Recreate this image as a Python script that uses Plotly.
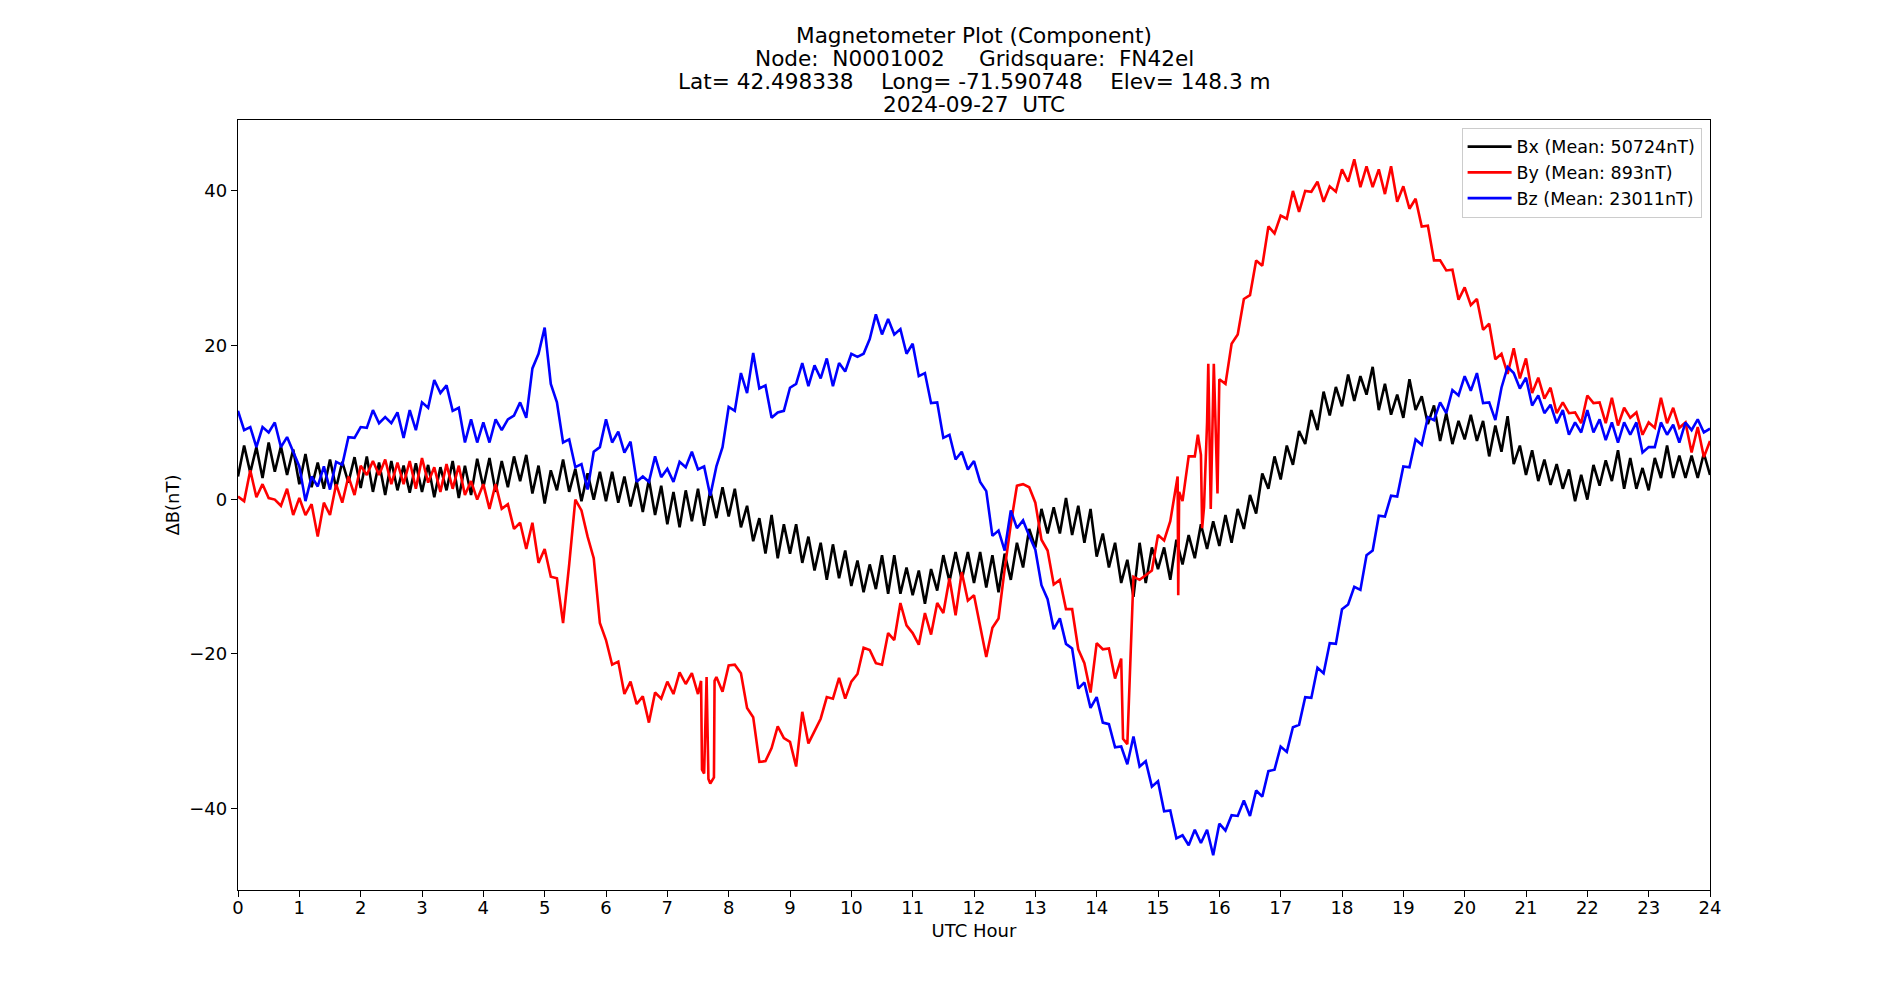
import numpy as np
import plotly.graph_objects as go

# sample grid (UTC hour, 0.1 h step); values read alternately at the upper / lower edge of the noisy trace
hours = np.round(np.arange(241) * 0.1, 1).tolist()

bx = [3.0, 7.0, 3.5, 6.8, 2.8, 7.4, 3.6, 6.9, 3.2, 6.5,
      2.0, 5.9, 1.6, 4.8, 1.4, 5.2, 1.5, 4.9, 2.2, 5.5,
      1.5, 5.6, 1.0, 4.8, 0.6, 5.0, 1.2, 4.4, 0.9, 4.7,
      1.0, 4.5, 0.3, 4.2, 1.2, 5.0, 0.2, 4.4, 0.6, 5.3,
      1.6, 5.4, 1.0, 5.0, 1.6, 5.6, 2.4, 5.8, 0.8, 4.4,
      -0.5, 3.8, 1.2, 5.2, 1.0, 4.0, -0.2, 3.4, 0.0, 3.6,
      -0.2, 3.6, -0.4, 3.0, -0.9, 2.4, -1.6, 2.6, -2.0, 1.8,
      -3.2, 1.0, -3.6, 1.2, -2.8, 1.4, -3.4, 1.2, -2.4, 1.6,
      -2.2, 1.4, -3.6, -0.8, -5.4, -2.4, -7.0, -2.0, -7.6, -3.2,
      -7.0, -3.2, -8.2, -4.8, -9.2, -5.6, -10.4, -5.8, -10.2, -6.6,
      -11.2, -7.9, -12.0, -8.4, -11.6, -7.2, -12.2, -7.2, -12.2, -8.8,
      -12.4, -9.2, -13.5, -9.0, -11.8, -7.2, -10.6, -6.8, -10.4, -6.8,
      -10.8, -6.8, -11.4, -7.2, -12.0, -7.0, -10.4, -5.6, -8.8, -3.8,
      -6.2, -1.2, -4.4, -1.0, -4.4, 0.2, -4.6, -0.8, -5.6, -1.2,
      -7.4, -4.4, -8.8, -5.6, -10.8, -7.8, -12.6, -5.6, -10.8, -6.2,
      -9.0, -6.2, -10.4, -5.2, -8.4, -4.6, -7.6, -3.2, -6.4, -2.8,
      -6.0, -2.0, -5.6, -1.2, -3.8, 0.6, -1.8, 3.4, 1.4, 5.6,
      2.6, 7.0, 4.5, 8.9, 7.2, 11.6, 9.0, 14.0, 10.9, 14.6,
      12.1, 16.2, 12.8, 16.0, 13.6, 17.2, 11.6, 15.0, 11.0, 13.6,
      10.6, 15.6, 11.6, 13.4, 9.8, 12.2, 7.6, 11.2, 7.2, 10.2,
      7.8, 11.0, 7.6, 10.2, 5.6, 9.6, 6.2, 10.8, 4.6, 7.0,
      3.2, 6.4, 2.4, 5.2, 1.9, 4.6, 1.4, 3.9, -0.2, 3.2,
      0.0, 4.5, 1.8, 5.1, 2.4, 6.4, 1.4, 5.4, 1.4, 4.1,
      1.2, 5.4, 2.8, 7.0, 2.8, 5.7, 2.8, 5.7, 2.8, 6.0,
      3.2]

by = [0.4, -0.2, 3.8, 0.3, 2.0, 0.2, 0.0, -0.8, 1.4, -2.0,
      0.2, -2.0, -0.6, -4.8, -0.4, -2.0, 2.0, -0.4, 3.0, 0.6,
      4.4, 3.2, 5.0, 3.2, 5.2, 2.0, 4.8, 2.0, 5.0, 1.4,
      5.4, 2.2, 4.2, 1.0, 4.6, 1.4, 4.4, 0.6, 2.4, 0.0,
      2.0, -1.2, 2.0, -1.2, -0.6, -3.8, -3.0, -6.4, -3.0, -8.2,
      -6.4, -10.0, -10.2, -16.0, -8.4, 0.0, -1.4, -4.8, -7.6, -16.0,
      -18.2, -21.4, -21.0, -25.2, -23.6, -26.5, -25.5, -28.9, -25.0, -25.8,
      -23.6, -25.2, -22.4, -23.9, -22.5, -25.2, -35.5, -36.8, -23.0, -24.9,
      -21.5, -21.4, -22.5, -27.0, -28.2, -34.0, -33.9, -32.2, -29.4, -30.9,
      -31.4, -34.6, -27.5, -31.6, -30.0, -28.4, -25.6, -25.8, -23.1, -25.8,
      -23.6, -22.6, -19.2, -19.5, -21.2, -21.4, -17.3, -18.2, -13.4, -16.3,
      -17.3, -18.8, -14.7, -17.5, -13.4, -14.7, -10.2, -15.0, -9.4, -13.1,
      -12.4, -16.3, -20.4, -16.6, -15.4, -9.0, -3.2, 1.8, 2.0, 1.6,
      -0.4, -5.2, -6.6, -11.0, -10.4, -14.2, -14.2, -19.4, -21.2, -25.0,
      -18.6, -19.4, -19.3, -23.2, -20.6, -31.7, -10.0, -10.4, -9.8, -9.2,
      -4.6, -5.3, -2.8, 2.0, -0.2, 5.6, 5.6, 5.8, 10.0, 14.0,
      15.6, 15.0, 20.2, 21.4, 26.0, 26.5, 31.0, 30.3, 35.4, 34.5,
      36.8, 36.4, 40.0, 37.3, 40.0, 39.9, 41.2, 38.6, 40.6, 39.9,
      42.8, 41.2, 44.1, 40.5, 43.2, 40.5, 42.8, 39.6, 43.2, 38.6,
      40.6, 37.7, 39.0, 35.4, 35.5, 31.0, 31.0, 29.7, 29.8, 25.9,
      27.5, 25.2, 26.0, 22.0, 22.8, 18.2, 18.9, 16.3, 19.6, 15.7,
      18.3, 13.8, 15.8, 13.1, 14.5, 11.2, 12.6, 11.2, 11.3, 9.9,
      13.5, 12.5, 12.6, 9.9, 13.2, 9.6, 11.9, 10.6, 11.3, 8.4,
      10.0, 9.3, 13.2, 9.9, 11.9, 9.3, 10.0, 6.1, 9.4, 5.5,
      7.6]

# short transients in By between grid samples
by_spike_hours = [7.55, 7.565, 7.64, 7.67, 7.76, 7.77,
                  14.43, 15.32, 15.33, 15.345,
                  15.65, 15.72, 15.75, 15.82, 15.86, 15.91, 15.97]
by_spike_vals = [-23.5, -35.0, -23.0, -36.2, -36.0, -23.5,
                 -31.0, 3.0, -12.4, 1.0,
                 8.4, -3.7, -1.0, 17.6, -1.2, 17.6, 0.8]

bz = [11.5, 9.0, 9.4, 6.8, 9.4, 8.7, 10.0, 6.8, 8.1, 6.1,
      4.3, -0.2, 3.0, 1.7, 4.3, 1.3, 4.9, 4.5, 8.1, 8.0,
      9.4, 9.3, 11.6, 9.9, 10.7, 9.9, 11.3, 8.0, 11.6, 9.0,
      12.6, 11.9, 15.5, 13.8, 14.8, 11.5, 11.9, 7.4, 10.4, 7.4,
      10.0, 7.4, 10.4, 9.0, 10.4, 10.9, 12.6, 10.6, 17.0, 18.9,
      22.3, 15.0, 12.6, 7.4, 7.8, 4.2, 4.6, 1.3, 6.2, 6.8,
      10.4, 7.4, 8.8, 6.1, 7.5, 2.3, 3.0, 2.3, 5.6, 2.9,
      4.0, 2.3, 4.9, 4.2, 6.2, 3.9, 4.3, 0.5, 4.3, 6.8,
      12.0, 11.5, 16.4, 13.8, 19.0, 14.4, 14.8, 10.6, 11.3, 11.5,
      14.5, 15.0, 17.7, 14.7, 17.4, 15.7, 18.3, 14.7, 17.7, 16.6,
      18.9, 18.5, 18.9, 20.8, 24.0, 21.4, 23.4, 21.4, 22.1, 18.9,
      20.2, 16.0, 16.4, 12.5, 12.6, 8.0, 8.4, 5.2, 6.2, 3.9,
      5.0, 2.3, 1.1, -4.7, -4.0, -6.6, -1.4, -3.7, -2.7, -4.7,
      -6.5, -11.1, -12.9, -16.8, -15.4, -18.7, -19.3, -24.5, -23.7, -27.0,
      -25.6, -28.9, -29.1, -32.1, -32.0, -34.3, -30.7, -34.6, -33.9, -37.2,
      -36.5, -40.4, -40.3, -43.9, -43.5, -44.8, -42.8, -44.5, -42.8, -46.1,
      -42.0, -42.9, -40.9, -41.0, -39.0, -41.0, -37.7, -38.5, -35.2, -35.0,
      -32.0, -32.7, -29.5, -29.2, -25.6, -25.7, -21.8, -22.5, -18.6, -18.7,
      -14.2, -13.6, -11.3, -11.7, -7.2, -6.6, -2.1, -2.2, 0.5, 0.4,
      4.3, 4.2, 7.8, 7.1, 10.7, 10.3, 12.6, 11.2, 14.2, 13.5,
      16.0, 14.1, 16.4, 12.5, 12.6, 10.3, 14.5, 17.2, 16.4, 14.4,
      15.8, 12.2, 13.5, 11.2, 12.3, 9.9, 11.6, 8.4, 10.0, 8.7,
      11.6, 8.7, 10.4, 7.7, 10.0, 7.4, 10.0, 8.4, 10.0, 6.1,
      6.8, 6.8, 10.0, 8.4, 9.7, 7.4, 10.0, 9.0, 10.4, 8.7,
      9.2]

series_names = ["Bx (Mean: 50724nT)", "By (Mean: 893nT)", "Bz (Mean: 23011nT)"]
series_colors = ["#000000", "#ff0000", "#0000ff"]
x_ticks = list(range(0, 25))
y_ticks = [-40, -20, 0, 20, 40]

title_lines = ["Magnetometer Plot (Component)",
               "Node:  N0001002     Gridsquare:  FN42el",
               "Lat= 42.498338    Long= -71.590748    Elev= 148.3 m",
               "2024-09-27  UTC"]

# merge By grid and transients
pairs = sorted(list(zip(hours, by)) + list(zip(by_spike_hours, by_spike_vals)))
by_x = [p[0] for p in pairs]
by_y = [p[1] for p in pairs]

FONT = "DejaVu Sans"
L, R, T, B = 237.5, 190, 120, 110
PH = 1000 - T - B

fig = go.Figure()
data_sets = [(hours, bx), (by_x, by_y), (hours, bz)]
for (xs, ys), name, col in zip(data_sets, series_names, series_colors):
    fig.add_trace(go.Scatter(x=xs, y=ys, mode="lines", name=name,
                             line=dict(color=col, width=2.6)))

# title lines (centre of each line, in figure pixels from top)
line_centres = [35.7, 58.8, 81.8, 104.8]
for txt, yc in zip(title_lines, line_centres):
    fig.add_annotation(text=txt, xref="paper", yref="paper", x=0.5, y=(1000 - B - yc) / PH,
                       xanchor="center", yanchor="middle", showarrow=False,
                       font=dict(family=FONT, size=21.6, color="black"))

fig.update_layout(
    width=1900, height=1000,
    margin=dict(l=L, r=R, t=T, b=B),
    paper_bgcolor="white", plot_bgcolor="white",
    font=dict(family=FONT, size=18, color="black"),
    showlegend=True,
    legend=dict(x=0.9943, y=0.990, xanchor="right", yanchor="top",
                bgcolor="rgba(255,255,255,0.8)", bordercolor="#cccccc", borderwidth=1,
                font=dict(family=FONT, size=17.5, color="black"),
                itemwidth=44),
)
fig.update_xaxes(range=[0, 24], tickvals=x_ticks, ticktext=[str(v) for v in x_ticks],
                 ticks="outside", ticklen=6, tickwidth=1.4, tickcolor="black",
                 ticklabelstandoff=-5,
                 showline=True, linecolor="black", linewidth=1.4, mirror=True,
                 showgrid=False, zeroline=False,
                 title=dict(text="UTC Hour", standoff=7, font=dict(family=FONT, size=18)))
fig.update_yaxes(range=[-50.6, 49.2], tickvals=y_ticks,
                 ticks="outside", ticklen=6, tickwidth=1.4, tickcolor="black",
                 showline=True, linecolor="black", linewidth=1.4, mirror=True,
                 showgrid=False, zeroline=False,
                 title=dict(text="ΔB(nT)", standoff=4, font=dict(family=FONT, size=18)))

fig.write_html("out.html")
